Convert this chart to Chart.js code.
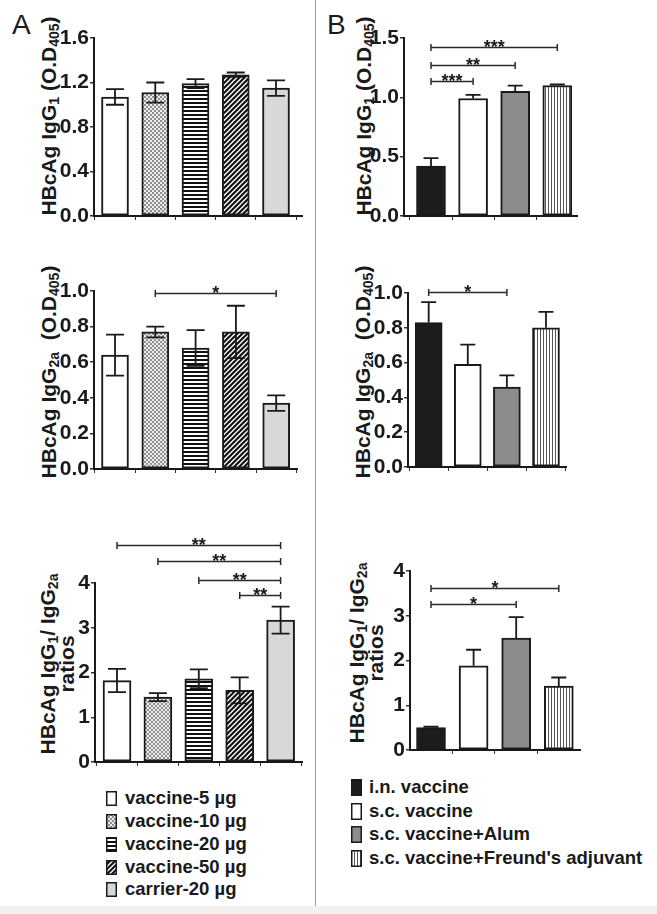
<!DOCTYPE html>
<html><head><meta charset="utf-8">
<script src="https://cdn.jsdelivr.net/npm/chart.js@4.4.0/dist/chart.umd.min.js"></script>
<style>
html,body{margin:0;padding:0;background:#fff;}
#page{position:relative;width:657px;height:914px;overflow:hidden;background:#fff;font-family:"Liberation Sans",Arial,sans-serif;color:#1a1a1a;}
canvas.ch{position:absolute;}
.ytitle{position:absolute;font-weight:bold;font-size:21px;white-space:nowrap;transform:translate(-50%,-50%) rotate(-90deg);text-align:center;line-height:19px;}
.ytitle sub{font-size:14px;vertical-align:-3px;line-height:0;}
.letter{position:absolute;font-size:28px;line-height:28px;}
.divider{position:absolute;left:315px;top:0;width:1px;height:914px;background:#9a9a9a;}
.foot{position:absolute;left:0;top:906px;width:657px;height:8px;background:#f1f1f1;}
.leg{position:absolute;font-weight:bold;font-size:18.5px;line-height:20px;white-space:nowrap;}
.leg canvas{position:absolute;}
</style></head>
<body>
<div id="page">
  <div class="divider"></div>
  <div class="foot"></div>
  <div class="letter" style="left:12px;top:11px;">A</div>
  <div class="letter" style="left:327px;top:11px;">B</div>
  <div class="ytitle" style="left:48px;top:116px;">HBcAg IgG<sub>1</sub> (O.D<sub>405</sub>)</div>
  <div class="ytitle" style="left:48px;top:372px;">HBcAg IgG<sub>2a</sub>&nbsp;&nbsp;(O.D<sub>405</sub>)</div>
  <div class="ytitle" style="left:57px;top:664px;">HBcAg IgG<sub>1</sub>/ IgG<sub>2a</sub><br>ratios</div>
  <div class="ytitle" style="left:363px;top:116px;">HBcAg IgG<sub>1</sub> (O.D<sub>405</sub>)</div>
  <div class="ytitle" style="left:362px;top:372px;">HBcAg IgG<sub>2a</sub>&nbsp;&nbsp;(O.D<sub>405</sub>)</div>
  <div class="ytitle" style="left:366px;top:653px;">HBcAg IgG<sub>1</sub>/ IgG<sub>2a</sub><br>ratios</div>
  <canvas class="ch" id="cA1"></canvas>
  <canvas class="ch" id="cA2"></canvas>
  <canvas class="ch" id="cA3"></canvas>
  <canvas class="ch" id="cB1"></canvas>
  <canvas class="ch" id="cB2"></canvas>
  <canvas class="ch" id="cB3"></canvas>
</div>
<script>
// ---------------- DATA ----------------
const groupsA = ['vaccine-5 µg', 'vaccine-10 µg', 'vaccine-20 µg', 'vaccine-50 µg', 'carrier-20 µg'];
const groupsB = ['i.n. vaccine', 's.c. vaccine', 's.c. vaccine+Alum', "s.c. vaccine+Freund's adjuvant"];

const igg1A      = [1.07, 1.11, 1.19, 1.27, 1.15];
const igg1A_sem  = [0.07, 0.09, 0.04, 0.02, 0.07];
const igg2aA     = [0.64, 0.77, 0.68, 0.77, 0.37];
const igg2aA_sem = [0.115, 0.03, 0.10, 0.147, 0.044];
const ratioA     = [1.82, 1.45, 1.86, 1.60, 3.17];
const ratioA_sem = [0.26, 0.09, 0.21, 0.29, 0.30];

const igg1B      = [0.42, 0.99, 1.05, 1.10];
const igg1B_sem  = [0.067, 0.03, 0.048, 0.008];
const igg2aB     = [0.83, 0.59, 0.46, 0.80];
const igg2aB_sem = [0.118, 0.113, 0.067, 0.092];
const ratioB     = [0.50, 1.88, 2.50, 1.43];
const ratioB_sem = [0.02, 0.36, 0.47, 0.19];

const ticksIgg1A = [0, 0.4, 0.8, 1.2, 1.6];
const ticksIgg2a = [0, 0.2, 0.4, 0.6, 0.8, 1.0];
const ticksRatio = [0, 1, 2, 3, 4];
const ticksIgg1B = [0, 0.5, 1.0, 1.5];

// significance brackets: group indexes and level in axis units
const sigIgg2aA = [{from:1, to:4, level:0.987, label:'*'}];
const sigRatioA = [
  {from:0, to:4, level:4.86, label:'**'},
  {from:1, to:4, level:4.49, label:'**'},
  {from:2, to:4, level:4.07, label:'**'},
  {from:3, to:4, level:3.74, label:'**'}
];
const sigIgg1B = [
  {from:0, to:1, level:1.138, label:'***'},
  {from:0, to:2, level:1.276, label:'**'},
  {from:0, to:3, level:1.425, label:'***'}
];
const sigIgg2aB = [{from:0, to:2, level:1.008, label:'*'}];
const sigRatioB = [
  {from:0, to:2, level:3.255, label:'*'},
  {from:0, to:3, level:3.63, label:'*'}
];

// ---------------- STYLES ----------------
const INK = '#1a1a1a';
function mkPattern(kind){
  const c = document.createElement('canvas');
  const g = c.getContext('2d');
  if (kind === 'dots'){
    c.width = 4; c.height = 4;
    g.fillStyle = '#ececec'; g.fillRect(0,0,4,4);
    g.fillStyle = '#8f8f8f'; g.fillRect(0,0,2,2); g.fillRect(2,2,2,2);
  } else if (kind === 'hstripes'){
    c.width = 2; c.height = 4;
    g.fillStyle = '#ffffff'; g.fillRect(0,0,2,4);
    g.fillStyle = '#111111'; g.fillRect(0,0,2,2);
  } else if (kind === 'diag'){
    c.width = 5; c.height = 5;
    g.fillStyle = '#ffffff'; g.fillRect(0,0,5,5);
    g.strokeStyle = '#111111'; g.lineWidth = 2.2;
    g.beginPath();
    g.moveTo(-1,6); g.lineTo(6,-1);
    g.moveTo(-3.5,3.5); g.lineTo(3.5,-3.5);
    g.moveTo(1.5,8.5); g.lineTo(8.5,1.5);
    g.stroke();
  } else if (kind === 'vlines'){
    c.width = 3; c.height = 1;
    g.fillStyle = '#ffffff'; g.fillRect(0,0,3,1);
    g.fillStyle = '#555555'; g.fillRect(0,0,1,1);
  }
  return g.createPattern(c, 'repeat');
}
const fillsA = ['#ffffff', mkPattern('dots'), mkPattern('hstripes'), mkPattern('diag'), '#d8d8d8'];
const fillsB = ['#1c1c1c', '#ffffff', '#8c8c8c', mkPattern('vlines')];

// ---------------- PLUGINS ----------------
const errPlugin = {
  id: 'errbars',
  afterDatasetsDraw(chart, args, opts){
    const ctx = chart.ctx, y = chart.scales.y;
    const meta = chart.getDatasetMeta(0);
    const ds = chart.data.datasets[0];
    ctx.save();
    ctx.strokeStyle = INK; ctx.lineWidth = 1.8;
    meta.data.forEach((el, i) => {
      const v = ds.data[i].y, e = opts.sems[i];
      const yt = y.getPixelForValue(v + e);
      const yb = y.getPixelForValue(opts.twoSided ? v - e : v);
      const hw = opts.cap / 2;
      ctx.beginPath();
      ctx.moveTo(el.x, yb); ctx.lineTo(el.x, yt);
      ctx.moveTo(el.x - hw, yt); ctx.lineTo(el.x + hw, yt);
      if (opts.twoSided){ ctx.moveTo(el.x - hw, yb); ctx.lineTo(el.x + hw, yb); }
      ctx.stroke();
    });
    ctx.restore();
  }
};
const sigPlugin = {
  id: 'sig',
  afterDatasetsDraw(chart, args, opts){
    const ctx = chart.ctx, y = chart.scales.y;
    const meta = chart.getDatasetMeta(0);
    ctx.save();
    ctx.strokeStyle = '#2a2a2a'; ctx.fillStyle = INK; ctx.lineWidth = 1.5;
    ctx.font = 'bold 18px "Liberation Sans", Arial, sans-serif';
    ctx.textAlign = 'center'; ctx.textBaseline = 'alphabetic';
    (opts.items || []).forEach(b => {
      const x1 = meta.data[b.from].x, x2 = meta.data[b.to].x;
      const yy = Math.round(y.getPixelForValue(b.level)) + 0.5;
      ctx.beginPath();
      ctx.moveTo(x1, yy); ctx.lineTo(x2, yy);
      ctx.moveTo(x1, yy - 3.5); ctx.lineTo(x1, yy + 3.5);
      ctx.moveTo(x2, yy - 3.5); ctx.lineTo(x2, yy + 3.5);
      ctx.stroke();
      ctx.fillText(b.label, (x1 + x2) / 2, yy + 5);
    });
    ctx.restore();
  }
};

// ---------------- CHARTS ----------------
const chartDefs = [
  {id:'cA1', left:34,  top:18,  w:274, h:216, padTop:20, labels:groupsA, values:igg1A,  sems:igg1A_sem,  two:true,  ticks:ticksIgg1A, dec:1, xmin:0.478, xmax:5.646, bar:27, cap:18, sig:[],        fills:fillsA},
  {id:'cA2', left:34,  top:267, w:269, h:220, padTop:24, labels:groupsA, values:igg2aA, sems:igg2aA_sem, two:true,  ticks:ticksIgg2a, dec:1, xmin:0.479, xmax:5.516, bar:27, cap:18, sig:sigIgg2aA, fills:fillsA},
  {id:'cA3', left:35,  top:521, w:273, h:259, padTop:62, labels:groupsA, values:ratioA, sems:ratioA_sem, two:true,  ticks:ticksRatio, dec:0, xmin:0.462, xmax:5.523, bar:28, cap:18, sig:sigRatioA, fills:fillsA},
  {id:'cB1', left:344, top:18,  w:239, h:216, padTop:20, labels:groupsB, values:igg1B,  sems:igg1B_sem,  two:false, ticks:ticksIgg1B, dec:1, xmin:0.359, xmax:4.468, bar:29, cap:15, sig:sigIgg1B,  fills:fillsB},
  {id:'cB2', left:348, top:267, w:224, h:218, padTop:26, labels:groupsB, values:igg2aB, sems:igg2aB_sem, two:false, ticks:ticksIgg2a, dec:1, xmin:0.471, xmax:4.512, bar:27, cap:15, sig:sigIgg2aB, fills:fillsB},
  {id:'cB3', left:350, top:551, w:236, h:217, padTop:20, labels:groupsB, values:ratioB, sems:ratioB_sem, two:false, ticks:ticksRatio, dec:0, xmin:0.507, xmax:4.498, bar:29, cap:15, sig:sigRatioB, fills:fillsB}
];

chartDefs.forEach(d => {
  const cv = document.getElementById(d.id);
  cv.width = d.w; cv.height = d.h;
  cv.style.left = d.left + 'px'; cv.style.top = d.top + 'px';
  cv.style.width = d.w + 'px'; cv.style.height = d.h + 'px';
  new Chart(cv, {
    type: 'bar',
    data: {
      labels: d.labels,
      datasets: [{
        data: d.values.map((v, i) => ({x: i + 1, y: v})),
        backgroundColor: d.fills,
        borderColor: INK,
        borderWidth: 2,
        borderSkipped: false,
        barThickness: d.bar
      }]
    },
    options: {
      responsive: false,
      animation: false,
      devicePixelRatio: 1,
      layout: {padding: {top: d.padTop, right: 6, bottom: 4, left: 0}},
      plugins: {
        legend: {display: false},
        tooltip: {enabled: false},
        errbars: {sems: d.sems, twoSided: d.two, cap: d.cap},
        sig: {items: d.sig}
      },
      scales: {
        x: {
          type: 'linear', min: d.xmin, max: d.xmax, offset: false,
          afterBuildTicks: s => { s.ticks = d.labels.map((_, i) => ({value: i + 1})); },
          afterFit: s => { s.height = 14; },
          ticks: {display: false},
          grid: {display: true, drawOnChartArea: false, drawTicks: true, tickLength: 4, color: '#333', lineWidth: 1},
          border: {display: true, color: INK, width: 2}
        },
        y: {
          type: 'linear', min: d.ticks[0], max: d.ticks[d.ticks.length - 1],
          afterBuildTicks: s => { s.ticks = d.ticks.map(v => ({value: v})); },
          afterFit: s => { s.width = 60; },
          ticks: {
            padding: 1, color: INK,
            font: {family: '"Liberation Sans", Arial, sans-serif', size: 21, weight: 'bold'},
            callback: v => Number(v).toFixed(d.dec)
          },
          grid: {display: true, drawOnChartArea: false, drawTicks: true, tickLength: 4, color: '#333', lineWidth: 1.5},
          border: {display: true, color: INK, width: 2}
        }
      }
    },
    plugins: [errPlugin, sigPlugin]
  });
});

// ---------------- LEGENDS ----------------
function buildLegend(groups, fills, swX, txtX, rowYs, swW, swH){
  const page = document.getElementById('page');
  groups.forEach((g, i) => {
    const row = document.createElement('div');
    row.className = 'leg';
    row.style.left = txtX + 'px';
    row.style.top = (rowYs[i] - 10) + 'px';
    row.textContent = g;
    const sw = document.createElement('canvas');
    sw.width = swW; sw.height = swH;
    sw.style.left = (swX - txtX) + 'px';
    sw.style.top = (10 - swH / 2) + 'px';
    const c = sw.getContext('2d');
    c.fillStyle = fills[i]; c.fillRect(0, 0, swW, swH);
    c.strokeStyle = INK; c.lineWidth = 1.5; c.strokeRect(0.75, 0.75, swW - 1.5, swH - 1.5);
    row.appendChild(sw);
    page.appendChild(row);
  });
}
buildLegend(groupsA, fillsA, 106, 125, [798, 821, 844, 867, 889], 11, 15);
buildLegend(groupsB, fillsB, 351, 369, [787, 811, 834, 858], 11, 17);
</script>
</body></html>
